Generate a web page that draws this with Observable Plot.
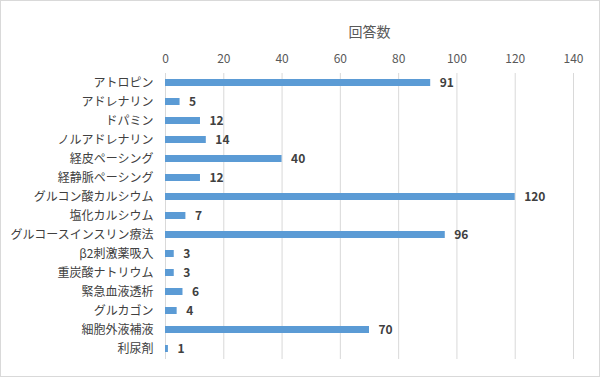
<!DOCTYPE html>
<html><head><meta charset="utf-8">
<script src="https://cdn.jsdelivr.net/npm/d3@7"></script>
<script src="https://cdn.jsdelivr.net/npm/@observablehq/plot@0.6"></script>
<style>
body{margin:0;background:#fff;}
#chart svg{display:block;outline:1px solid #d9d9d9;outline-offset:-1px;}
</style>
</head><body><div id="chart"></div>
<script>
const categories = ["アトロピン","アドレナリン","ドパミン","ノルアドレナリン","経皮ペーシング","経静脈ペーシング","グルコン酸カルシウム","塩化カルシウム","グルコースインスリン療法","β2刺激薬吸入","重炭酸ナトリウム","緊急血液透析","グルカゴン","細胞外液補液","利尿剤"];
const values = [91,5,12,14,40,12,120,7,96,3,3,6,4,70,1];
const xTicks = [0,20,40,60,80,100,120,140];
const title = "回答数";
const data = categories.map((c,i)=>({cat:c, val:values[i]}));
const font = "'Noto Sans CJK JP', 'Noto Sans', sans-serif";
const chart = Plot.plot({
  width:600, height:377,
  marginTop:73, marginBottom:18, marginLeft:165, marginRight:27,
  style:{fontFamily:font, fontSize:"12px", color:"#595959", background:"#fff"},
  x:{domain:[0,140], ticks:xTicks, axis:null},
  y:{domain:categories, paddingInner:0.63, paddingOuter:0.34, axis:null},
  marks:[
    Plot.ruleX(xTicks,{stroke:"#d9d9d9", strokeWidth:1}),
    Plot.axisX({anchor:"top", ticks:xTicks, tickSize:0, tickPadding:11, label:null, fill:"#595959", fontSize:12}),
    Plot.axisY({anchor:"left", tickSize:0, tickPadding:12, label:null, fill:"#404040", fontSize:12}),
    Plot.barX(data,{x:"val", y:"cat", fill:"#5B9BD5"}),
    Plot.text(data,{x:"val", y:"cat", text:d=>String(d.val), textAnchor:"start", dx:9, fontWeight:"bold", fill:"#404040", fontSize:12}),
    Plot.text([title],{frameAnchor:"top", lineAnchor:"middle", dy:-41, fontSize:14, fill:"#595959"})
  ]
});
document.getElementById("chart").append(chart);
</script>
</body></html>
